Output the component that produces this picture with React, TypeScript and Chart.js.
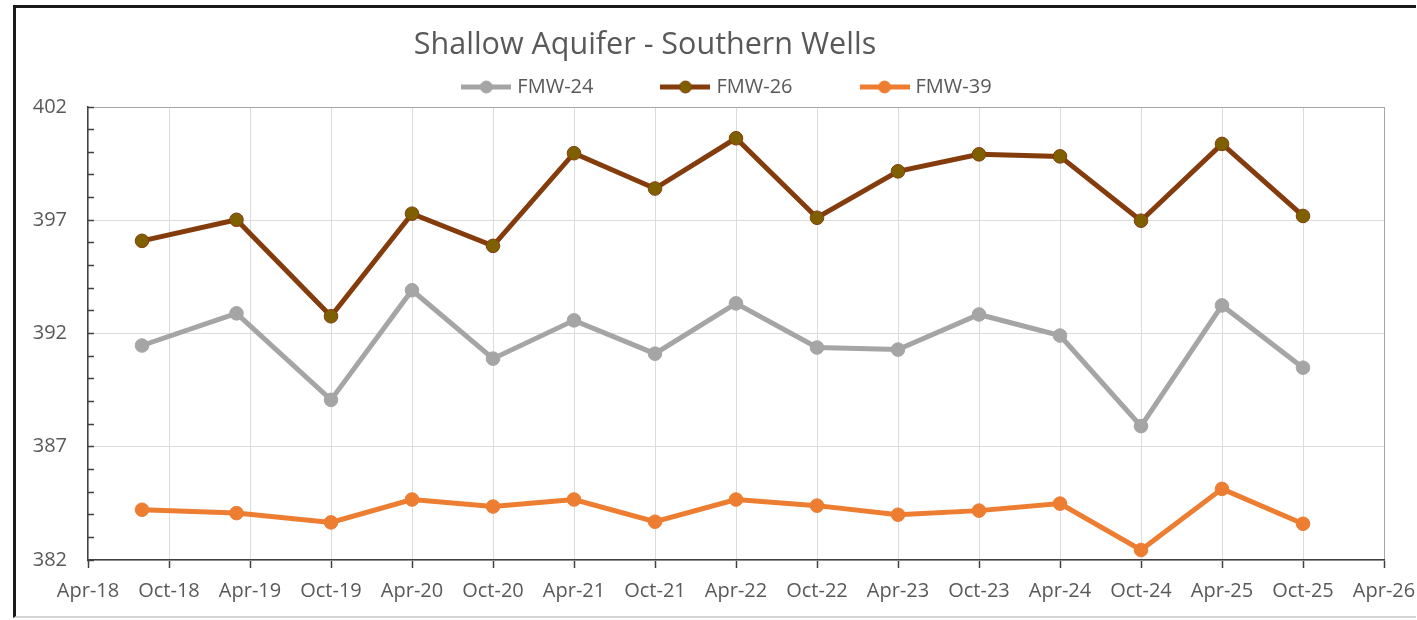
import { useEffect, useRef } from 'react';
import { Chart, registerables } from 'chart.js';

Chart.register(...registerables);

// Sample dates (year-month) of each measurement
const sampleDates = [
  '2018-08', '2019-03', '2019-10', '2020-04', '2020-10', '2021-04', '2021-10', '2022-04',
  '2022-10', '2023-04', '2023-10', '2024-04', '2024-10', '2025-04', '2025-10',
];

// X axis tick labels, every 6 months starting Apr-18
const xTickLabels = [
  'Apr-18', 'Oct-18', 'Apr-19', 'Oct-19', 'Apr-20', 'Oct-20', 'Apr-21', 'Oct-21', 'Apr-22',
  'Oct-22', 'Apr-23', 'Oct-23', 'Apr-24', 'Oct-24', 'Apr-25', 'Oct-25', 'Apr-26',
];

const seriesNames = ['FMW-24', 'FMW-26', 'FMW-39'];

const fmw24 = [391.47, 392.89, 389.07, 393.91, 390.89, 392.58, 391.11, 393.33, 391.38, 391.29, 392.84, 391.91, 387.91, 393.24, 390.49];
const fmw26 = [396.09, 397.02, 392.76, 397.29, 395.87, 399.96, 398.4, 400.62, 397.11, 399.16, 399.91, 399.82, 396.98, 400.37, 397.19];
const fmw39 = [384.22, 384.07, 383.66, 384.67, 384.36, 384.67, 383.69, 384.67, 384.4, 384.0, 384.18, 384.49, 382.44, 385.14, 383.6];

const yMin = 382;
const yMax = 402;
const yMajorStep = 5;

const TEXT = '#595959';
const FONT = 'Open Sans';

function monthOffset(d: string): number {
  const [y, m] = d.split('-').map(Number);
  return (y - 2018) * 12 + (m - 4);
}

export default function App() {
  const ref = useRef<HTMLCanvasElement>(null);

  useEffect(() => {
    let chart: Chart | null = null;
    let cancelled = false;
    const canvas = ref.current!;

    const build = () => {
      if (cancelled) return;
      const xs = sampleDates.map(monthOffset);
      const seriesValues = [fmw24, fmw26, fmw39];
      const styles = [
        { line: '#A5A5A5', fill: '#A5A5A5', edge: '#A5A5A5' },
        { line: '#843C0C', fill: '#7F6000', edge: '#843C0C' },
        { line: '#ED7D31', fill: '#ED7D31', edge: '#ED7D31' },
      ];
      const icons = styles.map((s) => {
        const c = document.createElement('canvas');
        c.width = 50;
        c.height = 16;
        const g = c.getContext('2d')!;
        g.strokeStyle = s.line;
        g.lineWidth = 5;
        g.beginPath();
        g.moveTo(0, 8);
        g.lineTo(50, 8);
        g.stroke();
        g.beginPath();
        g.arc(25, 8, 6, 0, Math.PI * 2);
        g.fillStyle = s.fill;
        g.fill();
        g.lineWidth = 1;
        g.strokeStyle = s.edge;
        g.stroke();
        return c;
      });

      const xMaxMonths = (xTickLabels.length - 1) * 6;

      chart = new Chart(canvas, {
        type: 'line',
        data: {
          datasets: seriesNames.map((name, i) => ({
            label: name,
            data: seriesValues[i].map((v, j) => ({ x: xs[j], y: v })),
            borderColor: styles[i].line,
            backgroundColor: styles[i].fill,
            pointBackgroundColor: styles[i].fill,
            pointBorderColor: styles[i].edge,
            pointBorderWidth: 1,
            pointRadius: 6.8,
            borderWidth: 5,
            tension: 0,
            fill: false,
          })),
        },
        options: {
          responsive: false,
          animation: false,
          layout: { padding: { left: 28, right: -12, top: 6, bottom: 0 } },
          plugins: {
            title: { display: false },
            tooltip: { enabled: false },
            legend: {
              position: 'top',
              maxHeight: 105,
              labels: {
                usePointStyle: true,
                pointStyleWidth: 42,
                padding: 71,
                color: TEXT,
                font: { family: FONT, size: 20 },
                generateLabels: (ch: any) =>
                  ch.data.datasets.map((ds: any, i: number) => ({
                    text: ds.label,
                    fillStyle: ds.borderColor,
                    strokeStyle: ds.borderColor,
                    lineWidth: 0,
                    pointStyle: icons[i],
                    hidden: false,
                    datasetIndex: i,
                    fontColor: TEXT,
                  })),
              },
            },
          },
          scales: {
            x: {
              type: 'linear',
              min: 0,
              max: xMaxMonths,
              afterFit: (s: any) => {
                s.height = 60;
                s.paddingRight = 33;
              },
              border: { display: true, color: '#404040', width: 1.5 },
              grid: {
                color: (c: any) => (c.tick && c.tick.value === xMaxMonths ? '#a6a6a6' : '#dcdcdc'),
                lineWidth: 1,
                drawTicks: true,
                tickLength: 8,
                tickColor: '#404040',
                tickWidth: 1.5,
              },
              ticks: {
                stepSize: 6,
                autoSkip: false,
                maxRotation: 0,
                padding: 11,
                color: TEXT,
                font: { family: FONT, size: 20 },
                callback: (v: any) => xTickLabels[Math.round(Number(v) / 6)] ?? '',
              },
            },
            y: {
              min: yMin,
              max: yMax,
              afterFit: (s: any) => {
                s.width = 60;
              },
              border: { display: true, color: '#404040', width: 1.5 },
              grid: {
                color: (c: any) => {
                  const v = c.tick ? c.tick.value : yMin;
                  if ((v - yMin) % yMajorStep !== 0) return 'rgba(0,0,0,0)';
                  return v === yMax ? '#a6a6a6' : '#dcdcdc';
                },
                lineWidth: 1,
                drawTicks: true,
                tickLength: -6,
                tickColor: '#404040',
                tickWidth: 1.5,
              },
              ticks: {
                stepSize: 1,
                autoSkip: false,
                padding: 27,
                color: TEXT,
                font: { family: FONT, size: 20 },
                callback: (v: any) => ((Number(v) - yMin) % yMajorStep === 0 ? String(v) : ''),
              },
            },
          },
        },
      } as any);
    };

    if ((document as any).fonts && (document as any).fonts.load) {
      (document as any).fonts.load(`20px "${FONT}"`).then(build, build);
    } else {
      build();
    }

    return () => {
      cancelled = true;
      if (chart) chart.destroy();
    };
  }, []);

  return (
    <div
      style={{
        position: 'fixed',
        left: 0,
        top: 0,
        width: 1417,
        height: 620,
        background: '#ffffff',
        overflow: 'hidden',
      }}
    >
      <div
        style={{
          position: 'absolute',
          left: 13,
          top: 5,
          width: 1400,
          height: 608,
          borderLeft: '3px solid #1a1a1a',
          borderTop: '3px solid #1a1a1a',
          borderBottom: '2px solid #d4d4d4',
        }}
      />
      <canvas ref={ref} width={1417} height={620} style={{ position: 'absolute', left: 0, top: 0 }} />
      <div
        style={{
          position: 'absolute',
          left: 345,
          top: 22,
          width: 600,
          textAlign: 'center',
          fontFamily: `"${FONT}"`,
          fontSize: 30.5,
          lineHeight: '40px',
          color: TEXT,
          whiteSpace: 'nowrap',
        }}
      >
        Shallow Aquifer - Southern Wells
      </div>
    </div>
  );
}
